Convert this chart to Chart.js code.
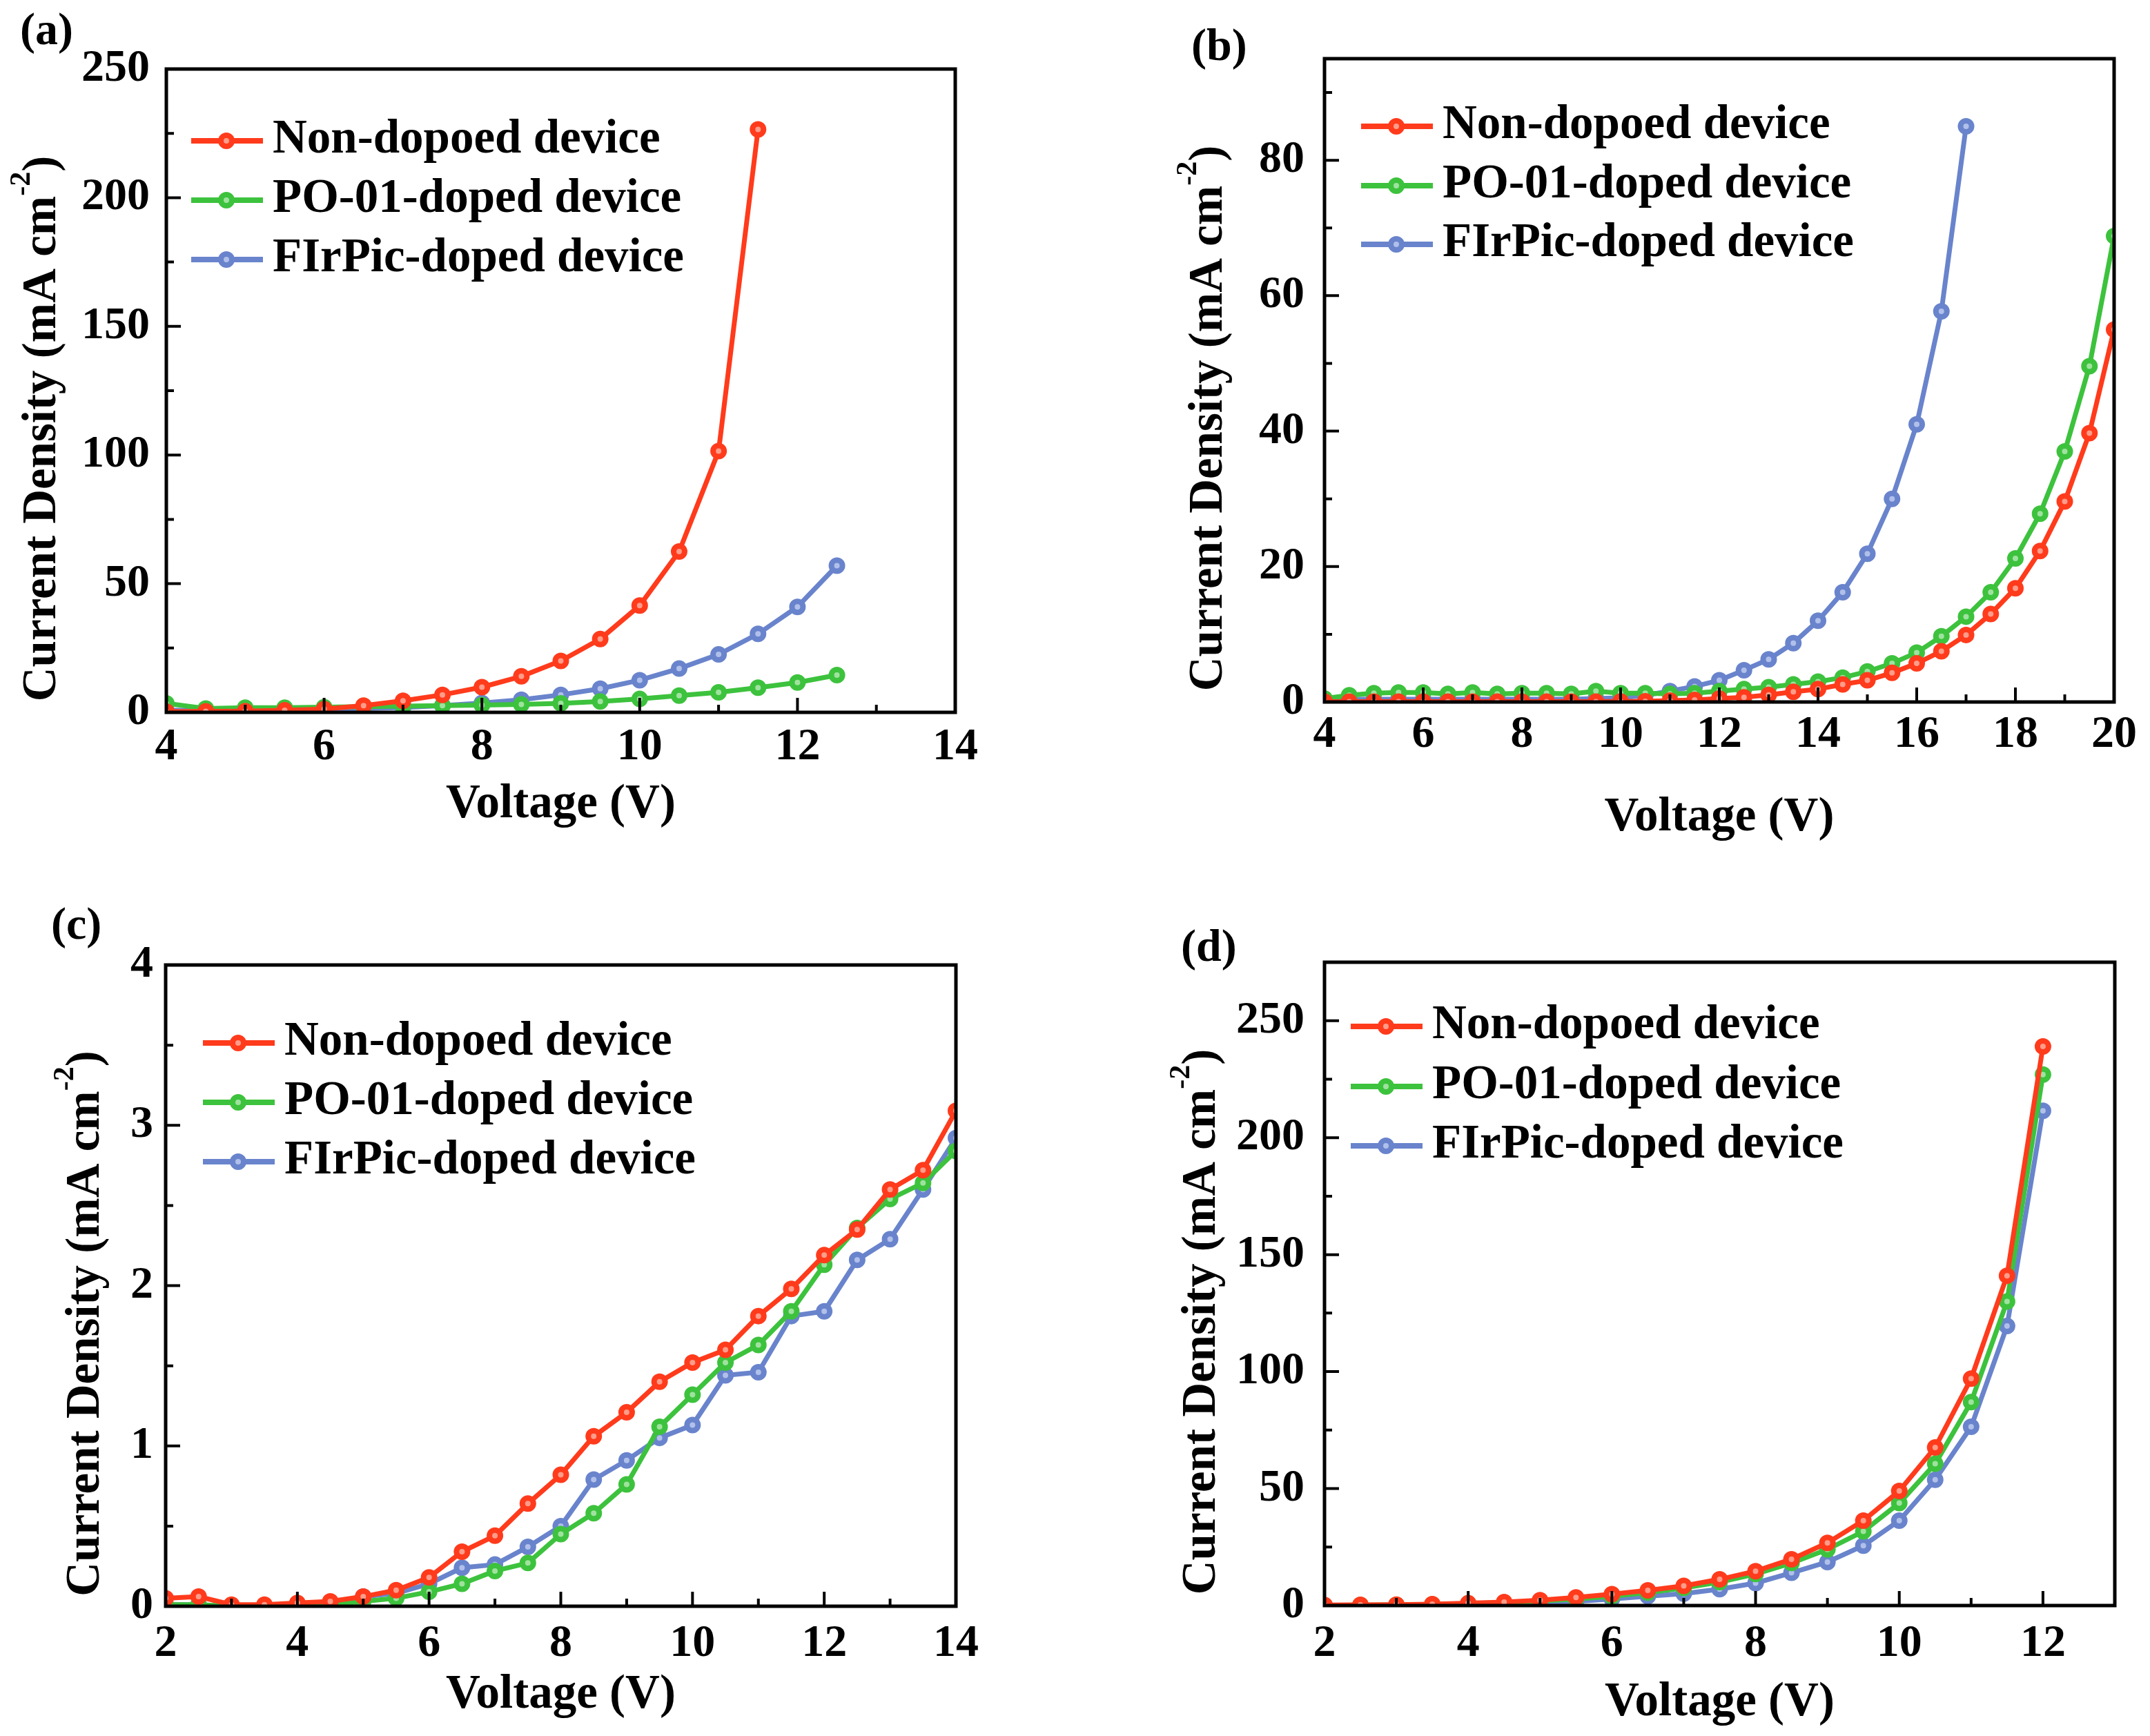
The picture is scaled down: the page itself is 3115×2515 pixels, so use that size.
<!DOCTYPE html>
<html>
<head>
<meta charset="utf-8">
<style>
  body { margin: 0; background: #fff; width: 3115px; height: 2515px; overflow: hidden; }
  .panel { position: absolute; }
</style>
</head>
<body>
<div class="panel" style="left:0;top:0"><canvas id="chartA" width="1557" height="1257"></canvas></div>
<div class="panel" style="left:1557px;top:0"><canvas id="chartB" width="1558" height="1257"></canvas></div>
<div class="panel" style="left:0;top:1257px"><canvas id="chartC" width="1557" height="1258"></canvas></div>
<div class="panel" style="left:1557px;top:1257px"><canvas id="chartD" width="1558" height="1258"></canvas></div>

<script src="https://cdn.jsdelivr.net/npm/chart.js"></script>
<script>
// series names (legend text)
const seriesNames = ['Non-dopoed device', 'PO-01-doped device', 'FIrPic-doped device'];

// (a)
const voltA = [4, 4.5, 5, 5.5, 6, 6.5, 7, 7.5, 8, 8.5, 9, 9.5, 10, 10.5, 11, 11.5, 12, 12.5];
const nonDopedA = [0.3, 0.4, 0.5, 0.8, 1.3, 2.6, 4.5, 6.8, 9.8, 14, 20, 28.5, 41.5, 62.5, 101.5, 226.5];
const po01A = [3.5, 1.5, 1.8, 1.8, 2.0, 2.2, 2.4, 2.6, 2.8, 3.1, 3.5, 4.2, 5.2, 6.5, 7.8, 9.6, 11.6, 14.5];
const firpicA = [0.8, 0.8, 0.8, 0.9, 1.1, 1.5, 1.9, 2.6, 3.6, 4.9, 6.8, 9.2, 12.5, 17, 22.5, 30.5, 41, 57];
const xTicksA = [4, 6, 8, 10, 12, 14];
const yTicksA = [0, 50, 100, 150, 200, 250];

// (b)
const voltB = [4, 4.5, 5, 5.5, 6, 6.5, 7, 7.5, 8, 8.5, 9, 9.5, 10, 10.5, 11, 11.5, 12, 12.5,
               13, 13.5, 14, 14.5, 15, 15.5, 16, 16.5, 17, 17.5, 18, 18.5, 19, 19.5, 20];
const nonDopedB = [0.05, 0.05, 0.05, 0.05, 0.05, 0.05, 0.05, 0.05, 0.05, 0.05, 0.05, 0.05, 0.08, 0.1, 0.2, 0.3,
                   0.5, 0.7, 1.05, 1.5, 1.9, 2.6, 3.2, 4.3, 5.7, 7.5, 9.9, 13, 16.8, 22.3, 29.6, 39.7, 55];
const po01B = [0.5, 1.0, 1.3, 1.4, 1.4, 1.2, 1.4, 1.2, 1.3, 1.3, 1.2, 1.6, 1.3, 1.3, 1.2, 1.3,
               1.6, 1.9, 2.2, 2.6, 3.0, 3.6, 4.5, 5.7, 7.3, 9.7, 12.6, 16.2, 21.2, 27.8, 37, 49.6, 68.8];
const firpicB = [0.3, 0.4, 0.4, 0.4, 0.4, 0.4, 0.4, 0.4, 0.4, 0.4, 0.4, 0.5, 0.6, 1.0, 1.6, 2.3,
                 3.2, 4.7, 6.3, 8.7, 12, 16.2, 21.9, 30, 41, 57.7, 85];
const xTicksB = [4, 6, 8, 10, 12, 14, 16, 18, 20];
const yTicksB = [0, 20, 40, 60, 80];

// (c)
const voltC = [2, 2.5, 3, 3.5, 4, 4.5, 5, 5.5, 6, 6.5, 7, 7.5, 8, 8.5, 9, 9.5, 10, 10.5, 11, 11.5, 12, 12.5, 13, 13.5, 14];
const nonDopedC = [0.05, 0.06, 0.01, 0.01, 0.02, 0.03, 0.06, 0.1, 0.18, 0.34, 0.44, 0.64, 0.82, 1.06, 1.21,
                   1.40, 1.52, 1.60, 1.81, 1.98, 2.19, 2.35, 2.60, 2.72, 3.09];
const po01C = [0.01, 0.01, 0.0, 0.0, 0.01, 0.01, 0.03, 0.05, 0.09, 0.14, 0.22, 0.27, 0.45, 0.58, 0.76,
               1.12, 1.32, 1.52, 1.63, 1.84, 2.13, 2.36, 2.54, 2.64, 2.84];
const firpicC = [0.01, 0.01, 0.0, 0.0, 0.01, 0.02, 0.06, 0.08, 0.14, 0.24, 0.26, 0.37, 0.50, 0.79, 0.91,
                 1.05, 1.13, 1.44, 1.46, 1.81, 1.84, 2.16, 2.29, 2.60, 2.92];
const xTicksC = [2, 4, 6, 8, 10, 12, 14];
const yTicksC = [0, 1, 2, 3, 4];

// (d)
const voltD = [2, 2.5, 3, 3.5, 4, 4.5, 5, 5.5, 6, 6.5, 7, 7.5, 8, 8.5, 9, 9.5, 10, 10.5, 11, 11.5, 12];
const nonDopedD = [0.2, 0.3, 0.4, 0.6, 1.0, 1.5, 2.3, 3.5, 4.9, 6.5, 8.4, 11.2, 14.7, 19.8, 26.8, 36.3, 49, 67.6, 97, 141, 239];
const po01D = [0.1, 0.2, 0.3, 0.5, 0.8, 1.2, 1.9, 2.8, 4.0, 5.5, 7.5, 10, 13.5, 18.2, 24, 31.7, 43.8, 60.6, 87, 130, 227];
const firpicD = [0.1, 0.1, 0.2, 0.3, 0.5, 0.8, 1.2, 1.8, 2.8, 4.0, 5.1, 7.0, 9.6, 14, 18.6, 25.6, 36.3, 53.8, 76.4, 119.5, 211.5];
const xTicksD = [2, 4, 6, 8, 10, 12];
const yTicksD = [0, 50, 100, 150, 200, 250];

// look
const lineColors = ['#ff3b1c', '#3dc23d', '#6984cc'];
const dotColors = ['#ff9c8a', '#9fe29f', '#b0c0ea'];
const FONT = '"Liberation Serif", "Times New Roman", serif';

function pts(volts, vals) {
  return vals.map((v, i) => ({ x: volts[i], y: v }));
}

// frame, inward ticks, legend, axis titles, panel letter
const decor = {
  id: 'decor',
  afterDatasetsDraw(chart, args, o) {
    const ctx = chart.ctx, a = chart.chartArea;
    const xs = chart.scales.x, ys = chart.scales.y;
    ctx.save();
    ctx.strokeStyle = '#000';
    ctx.lineWidth = 4;
    ctx.beginPath();
    const xv = xs.ticks.map(t => t.value), yv = ys.ticks.map(t => t.value);
    const xStep = (xv[1] - xv[0]) / 2, yStep = (yv[1] - yv[0]) / 2;
    xv.forEach(v => {
      const p = xs.getPixelForValue(v);
      ctx.moveTo(p, a.bottom); ctx.lineTo(p, a.bottom - 21);
      if (v + xStep < xs.max - 1e-9) {
        const q = xs.getPixelForValue(v + xStep);
        ctx.moveTo(q, a.bottom); ctx.lineTo(q, a.bottom - 11);
      }
    });
    yv.forEach(v => {
      const p = ys.getPixelForValue(v);
      ctx.moveTo(a.left, p); ctx.lineTo(a.left + 21, p);
      if (v + yStep < ys.max - 1e-9) {
        const q = ys.getPixelForValue(v + yStep);
        ctx.moveTo(a.left, q); ctx.lineTo(a.left + 11, q);
      }
    });
    ctx.stroke();
    ctx.lineWidth = 5;
    ctx.strokeRect(a.left, a.top, a.right - a.left, a.bottom - a.top);
    ctx.restore();
  },
  afterDraw(chart, args, o) {
    const ctx = chart.ctx, a = chart.chartArea;
    ctx.save();
    ctx.fillStyle = '#000';

    // legend
    chart.data.datasets.forEach((ds, i) => {
      const y = a.top + o.legendRows[i];
      const x0 = a.left + o.legendX;
      ctx.strokeStyle = ds.borderColor;
      ctx.lineWidth = 8;
      ctx.beginPath(); ctx.moveTo(x0, y); ctx.lineTo(x0 + 104, y); ctx.stroke();
      ctx.beginPath(); ctx.arc(x0 + 51, y, 8, 0, Math.PI * 2);
      ctx.fillStyle = ds.pointBackgroundColor; ctx.fill();
      ctx.lineWidth = 8; ctx.stroke();
      ctx.fillStyle = '#000';
      ctx.font = 'bold 69px ' + FONT;
      ctx.textAlign = 'left'; ctx.textBaseline = 'alphabetic';
      ctx.fillText(ds.label, x0 + 118, y + 17);
    });

    // x title
    ctx.font = 'bold 69px ' + FONT;
    ctx.textAlign = 'center'; ctx.textBaseline = 'alphabetic';
    ctx.fillText('Voltage (V)', (a.left + a.right) / 2, a.bottom + o.xTitleY);

    // y title with superscript
    const main = 'Current Density (mA cm', sup = '-2', tail = ')';
    ctx.save();
    ctx.translate(a.left + o.yTitleX, (a.top + a.bottom) / 2 + 55);
    ctx.rotate(-Math.PI / 2);
    ctx.font = 'bold 69px ' + FONT;
    const w1 = ctx.measureText(main).width, w3 = ctx.measureText(tail).width;
    ctx.font = 'bold 42px ' + FONT;
    const w2 = ctx.measureText(sup).width;
    let x = -(w1 + w2 + w3) / 2;
    ctx.textAlign = 'left'; ctx.textBaseline = 'middle';
    ctx.font = 'bold 69px ' + FONT;
    ctx.fillText(main, x, 0); x += w1;
    ctx.font = 'bold 42px ' + FONT;
    ctx.fillText(sup, x, -30); x += w2;
    ctx.font = 'bold 69px ' + FONT;
    ctx.fillText(tail, x, 0);
    ctx.restore();

    // panel letter
    ctx.font = 'bold 66px ' + FONT;
    ctx.textAlign = 'left'; ctx.textBaseline = 'alphabetic';
    ctx.fillText(o.letter, o.letterX, o.letterY);
    ctx.restore();
  }
};

function makePanel(id, p) {
  const sets = [p.nonDoped, p.po01, p.firpic].map((vals, i) => ({
    label: seriesNames[i],
    data: pts(p.volts, vals),
    borderColor: lineColors[i],
    borderWidth: 7,
    pointRadius: 8,
    pointBorderWidth: 8,
    pointBorderColor: lineColors[i],
    pointBackgroundColor: dotColors[i],
    tension: 0
  }));
  const tickFont = { family: FONT, size: 66, weight: 'bold' };
  new Chart(document.getElementById(id), {
    type: 'line',
    data: { datasets: sets },
    options: {
      responsive: false,
      animation: false,
      devicePixelRatio: 1,
      layout: { autoPadding: false, padding: { left: 0, top: p.top, right: p.right, bottom: 0 } },
      plugins: {
        legend: { display: false },
        tooltip: { enabled: false },
        decor: p.decor
      },
      scales: {
        x: {
          type: 'linear', min: p.xMin, max: p.xMax,
          afterBuildTicks: s => { s.ticks = p.xTicks.map(v => ({ value: v })); },
          afterFit: s => { s.height = p.xAxisH; },
          grid: { display: false, drawTicks: false },
          border: { display: false },
          ticks: { font: tickFont, color: '#000', padding: p.xPad, maxRotation: 0, autoSkip: false }
        },
        y: {
          type: 'linear', min: p.yMin, max: p.yMax,
          afterBuildTicks: s => { s.ticks = p.yTicks.map(v => ({ value: v })); },
          afterFit: s => { s.width = p.yAxisW; },
          grid: { display: false, drawTicks: false },
          border: { display: false },
          ticks: { font: tickFont, color: '#000', padding: p.yPad, autoSkip: false }
        }
      }
    },
    plugins: [decor]
  });
}

makePanel('chartA', {
  volts: voltA, nonDoped: nonDopedA, po01: po01A, firpic: firpicA,
  xMin: 4, xMax: 14, yMin: 0, yMax: 250, xTicks: xTicksA, yTicks: yTicksA,
  top: 100, right: 173, xAxisH: 225, yAxisW: 241, xPad: 11, yPad: 24,
  decor: { legendX: 36, legendRows: [104, 190, 276], xTitleY: 152, yTitleX: -179,
           letter: '(a)', letterX: 29, letterY: 64 }
});
makePanel('chartB', {
  volts: voltB, nonDoped: nonDopedB, po01: po01B, firpic: firpicB,
  xMin: 4, xMax: 20, yMin: 0, yMax: 95, xTicks: xTicksB, yTicks: yTicksB,
  top: 85, right: 52, xAxisH: 240, yAxisW: 362, xPad: 8, yPad: 29,
  decor: { legendX: 53, legendRows: [98, 184, 269], xTitleY: 186, yTitleX: -167,
           letter: '(b)', letterX: 169, letterY: 87 }
});
makePanel('chartC', {
  volts: voltC, nonDoped: nonDopedC, po01: po01C, firpic: firpicC,
  xMin: 2, xMax: 14, yMin: 0, yMax: 4, xTicks: xTicksC, yTicks: yTicksC,
  top: 141, right: 172, xAxisH: 188, yAxisW: 240, xPad: 15, yPad: 18,
  decor: { legendX: 54, legendRows: [113, 199, 285], xTitleY: 147, yTitleX: -115,
           letter: '(c)', letterX: 74, letterY: 103 }
});
makePanel('chartD', {
  volts: voltD, nonDoped: nonDopedD, po01: po01D, firpic: firpicD,
  xMin: 2, xMax: 13, yMin: 0, yMax: 275, xTicks: xTicksD, yTicks: yTicksD,
  top: 137, right: 51, xAxisH: 189, yAxisW: 362, xPad: 16, yPad: 29,
  decor: { legendX: 38, legendRows: [93, 180, 266], xTitleY: 159, yTitleX: -177,
           letter: '(d)', letterX: 154, letterY: 135 }
});
</script>
</body>
</html>
